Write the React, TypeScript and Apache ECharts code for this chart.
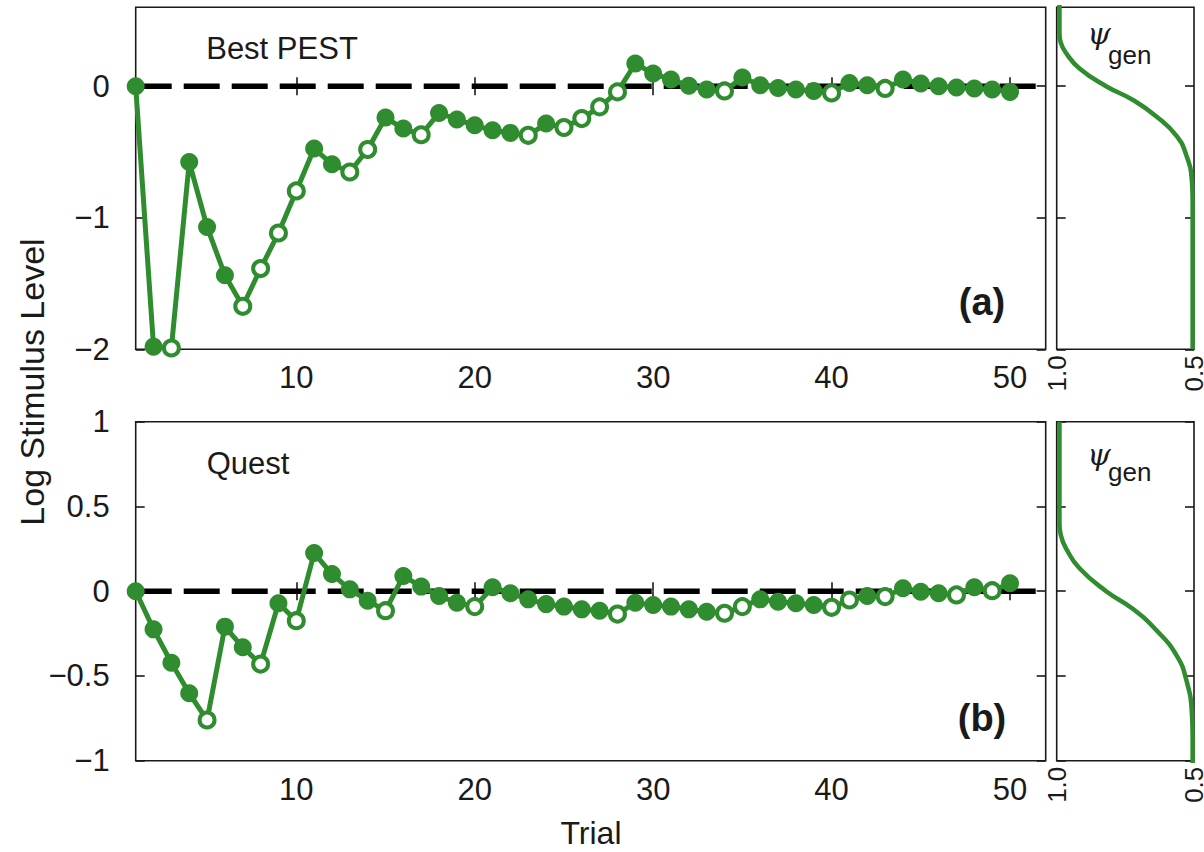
import React, { useEffect, useRef } from "react";
import * as echarts from "echarts";

// ---------- data ----------
const trials = [
  1, 2, 3, 4, 5, 6, 7, 8, 9, 10, 11, 12, 13, 14, 15, 16, 17, 18, 19, 20, 21, 22, 23, 24, 25,
  26, 27, 28, 29, 30, 31, 32, 33, 34, 35, 36, 37, 38, 39, 40, 41, 42, 43, 44, 45, 46, 47, 48, 49, 50,
];

const bestPestLevels = [
  0, -1.98, -1.99, -0.576, -1.07, -1.437, -1.673, -1.386, -1.116, -0.796,
  -0.474, -0.593, -0.652, -0.481, -0.238, -0.322, -0.369, -0.203, -0.253, -0.297,
  -0.335, -0.355, -0.373, -0.284, -0.314, -0.246, -0.157, -0.043, 0.173, 0.097,
  0.051, 0.004, -0.025, -0.036, 0.066, 0.008, -0.013, -0.025, -0.036, -0.051,
  0.025, 0.008, -0.017, 0.051, 0.021, 0, -0.01, -0.017, -0.025, -0.043,
];
const bestPestOpenTrials = [3, 7, 8, 9, 10, 13, 14, 17, 23, 25, 26, 27, 28, 34, 40, 43];

const questLevels = [
  0, -0.225, -0.422, -0.602, -0.76, -0.209, -0.331, -0.43, -0.071, -0.174,
  0.225, 0.101, 0.011, -0.056, -0.115, 0.09, 0.027, -0.028, -0.068, -0.091,
  0.023, -0.012, -0.048, -0.076, -0.091, -0.107, -0.115, -0.135, -0.068, -0.081,
  -0.091, -0.107, -0.121, -0.13, -0.091, -0.048, -0.062, -0.071, -0.081, -0.095,
  -0.052, -0.028, -0.032, 0.017, -0.003, -0.012, -0.022, 0.023, 0.003, 0.047,
];
const questOpenTrials = [5, 8, 10, 15, 20, 28, 34, 35, 40, 41, 43, 47, 49];

// generating psychometric function (level -> probability correct)
const psiLevels = [1.0, 0.4, 0.33, 0.25, 0.135, 0, -0.105, -0.23, -0.38, -0.53, -0.71, -0.86, -2.0];
const psiValues = [0.99, 0.99, 0.985, 0.965, 0.917, 0.82, 0.722, 0.637, 0.563, 0.527, 0.508, 0.505, 0.505];

const referenceLevel = 0;
const trialRange = [1, 52];
const topLevelRange = [-2, 0.6];
const bottomLevelRange = [-1, 1];
const psiRange = [0.5, 1.0];

const trialTicks = [10, 20, 30, 40, 50];
const topLevelTicks = [-2, -1, 0];
const bottomLevelTicks = [-1, -0.5, 0, 0.5, 1];
const psiTicks = [0.5, 1.0];

// ---------- styles ----------
const GREEN = "#2f8c2f";
const INK = "#1a1a1a";
const FONT = "'Liberation Sans', Arial, Helvetica, sans-serif";

const fmtMinus = (v: number) => String(v).replace("-", "\u2212");

function markerData(levels: number[], openTrials: number[]) {
  return trials.map((t, i) => {
    const open = openTrials.includes(t);
    return {
      value: [t, levels[i]],
      symbolSize: open ? 15 : 18,
      itemStyle: open
        ? { color: "#ffffff", borderColor: GREEN, borderWidth: 4 }
        : { color: GREEN, borderWidth: 0 },
    };
  });
}

export default function App() {
  const ref = useRef<HTMLDivElement>(null);

  useEffect(() => {
    if (!ref.current) return;
    const chart = echarts.init(ref.current, undefined, { renderer: "svg" });

    const gridTop = { left: 135.7, top: 7.3, width: 910, height: 342 };
    const gridBot = { left: 135.7, top: 421.7, width: 910, height: 339 };
    const sideTop = { left: 1056.7, top: 7.3, width: 137.3, height: 342 };
    const sideBot = { left: 1056.7, top: 421.7, width: 137.3, height: 339 };
    const gridCommon = {
      show: true,
      borderColor: INK,
      borderWidth: 1.6,
      backgroundColor: "transparent",
      containLabel: false,
      outerBoundsMode: "none",
    };

    const tickStyle = { inside: true, length: 9, lineStyle: { color: INK, width: 1.6 } };
    const labelStyle = { color: INK, fontSize: 31, fontFamily: FONT };

    const mainX = (gridIndex: number, position: string, labels: boolean) => ({
      type: "value",
      gridIndex,
      position,
      min: trialRange[0],
      max: trialRange[1],
      axisLine: { show: false },
      splitLine: { show: false },
      axisTick: { ...tickStyle, customValues: trialTicks },
      axisLabel: labels
        ? { ...labelStyle, margin: 13, customValues: trialTicks, formatter: fmtMinus }
        : { show: false },
    });

    const levelY = (
      gridIndex: number,
      position: string,
      range: number[],
      ticks: number[],
      labels: boolean
    ) => ({
      type: "value",
      gridIndex,
      position,
      min: range[0],
      max: range[1],
      axisLine: { show: false },
      splitLine: { show: false },
      axisTick: { ...tickStyle, customValues: ticks },
      axisLabel: labels
        ? { ...labelStyle, margin: 26, customValues: ticks, formatter: fmtMinus }
        : { show: false },
    });

    const psiX = (gridIndex: number) => ({
      type: "value",
      gridIndex,
      position: "bottom",
      min: psiRange[0],
      max: psiRange[1],
      inverse: true,
      axisLine: { show: false },
      splitLine: { show: false },
      axisTick: { show: false },
      axisLabel: {
        color: INK,
        fontSize: 26,
        fontFamily: FONT,
        rotate: 90,
        margin: 6,
        customValues: psiTicks,
        formatter: (v: number) => v.toFixed(1),
      },
    });

    const zeroLine = (xi: number, yi: number) => ({
      type: "line",
      xAxisIndex: xi,
      yAxisIndex: yi,
      data: [
        [trialRange[0], referenceLevel],
        [trialRange[1], referenceLevel],
      ],
      symbol: "none",
      silent: true,
      z: 1,
      lineStyle: { color: "#000", width: 5.5, type: [36, 12], cap: "butt" },
    });

    const dataLine = (xi: number, yi: number, levels: number[], open: number[]) => ({
      type: "line",
      xAxisIndex: xi,
      yAxisIndex: yi,
      data: markerData(levels, open),
      symbol: "circle",
      showSymbol: true,
      clip: false,
      z: 3,
      lineStyle: { color: GREEN, width: 5 },
      itemStyle: { color: GREEN },
    });

    const psiLine = (xi: number, yi: number) => ({
      type: "line",
      xAxisIndex: xi,
      yAxisIndex: yi,
      data: psiLevels.map((l, i) => [psiValues[i], l]),
      symbol: "none",
      smooth: 0.5,
      clip: true,
      lineStyle: { color: GREEN, width: 4.5 },
    });

    const txt = (x: number, y: number, text: string, extra: any = {}) => ({
      type: "text",
      x,
      y,
      silent: true,
      style: {
        text,
        fill: INK,
        font: `31px ${FONT}`,
        align: "center",
        verticalAlign: "middle",
        ...extra,
      },
    });

    chart.setOption({
      animation: false,
      backgroundColor: "#ffffff",
      grid: [
        { ...gridCommon, ...gridTop },
        { ...gridCommon, ...gridBot },
        { ...gridCommon, ...sideTop },
        { ...gridCommon, ...sideBot },
      ],
      xAxis: [
        mainX(0, "bottom", true),
        mainX(0, "top", false),
        mainX(1, "bottom", true),
        mainX(1, "top", false),
        psiX(2),
        psiX(3),
      ],
      yAxis: [
        levelY(0, "left", topLevelRange, topLevelTicks, true),
        levelY(0, "right", topLevelRange, topLevelTicks, false),
        levelY(1, "left", bottomLevelRange, bottomLevelTicks, true),
        levelY(1, "right", bottomLevelRange, bottomLevelTicks, false),
        levelY(2, "left", topLevelRange, topLevelTicks, false),
        levelY(2, "right", topLevelRange, topLevelTicks, false),
        levelY(3, "left", bottomLevelRange, bottomLevelTicks, false),
        levelY(3, "right", bottomLevelRange, bottomLevelTicks, false),
      ],
      series: [
        zeroLine(0, 0),
        dataLine(0, 0, bestPestLevels, bestPestOpenTrials),
        zeroLine(2, 2),
        dataLine(2, 2, questLevels, questOpenTrials),
        psiLine(4, 4),
        psiLine(5, 6),
      ],
      graphic: [
        txt(282, 48, "Best PEST"),
        txt(248, 463, "Quest"),
        txt(982, 302, "(a)", { font: `bold 38px ${FONT}` }),
        txt(982, 718, "(b)", { font: `bold 38px ${FONT}` }),
        txt(591, 833, "Trial", { font: `32px ${FONT}` }),
        {
          type: "text",
          x: 32,
          y: 382,
          rotation: Math.PI / 2,
          silent: true,
          style: {
            text: "Log Stimulus Level",
            fill: INK,
            font: `34px ${FONT}`,
            align: "center",
            verticalAlign: "middle",
          },
        },
        txt(1099, 33, "\u03c8", { font: `italic 30px 'DejaVu Serif', 'Liberation Serif', serif` }),
        txt(1108, 55, "gen", { font: `26px ${FONT}`, align: "left" }),
        txt(1099, 454, "\u03c8", { font: `italic 30px 'DejaVu Serif', 'Liberation Serif', serif` }),
        txt(1108, 472, "gen", { font: `26px ${FONT}`, align: "left" }),
      ],
    });

    return () => chart.dispose();
  }, []);

  return (
    <div
      ref={ref}
      style={{ position: "absolute", left: 0, top: 0, width: 1204, height: 852, background: "#fff" }}
    />
  );
}
